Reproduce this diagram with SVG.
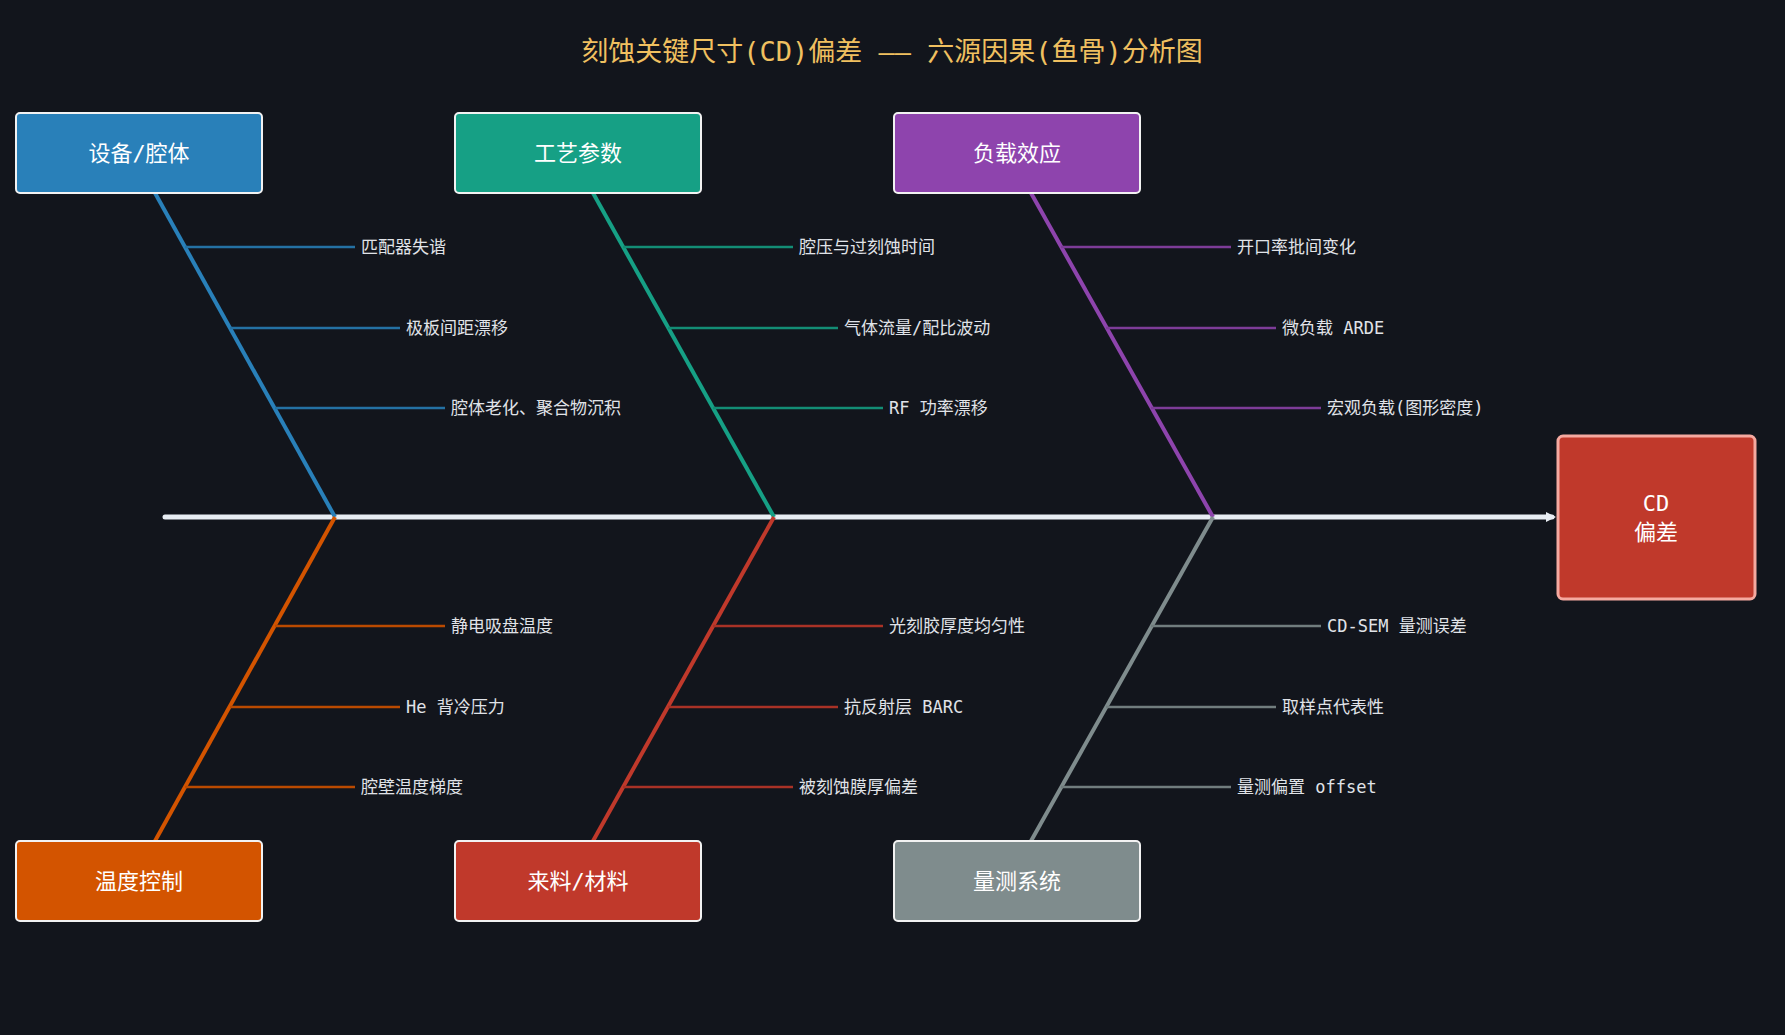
<svg xmlns="http://www.w3.org/2000/svg" width="1785" height="1035" viewBox="0 0 1785 1035">
<style>
text{font-family:"DejaVu Sans Mono","Noto Sans CJK SC",monospace}
.t{fill:#f0c060;font-size:27px}
.bl{fill:#ffffff;font-size:22px;text-anchor:middle}
.sl{fill:#e0e3e8;font-size:17px;dominant-baseline:central}
.box{stroke:#f2f2f2;stroke-width:2}
.bone{stroke-width:4;fill:none}
.sub{stroke-width:2.5;fill:none}
</style>
<defs><marker id="ah" markerWidth="10" markerHeight="10" refX="6" refY="5" orient="auto" markerUnits="userSpaceOnUse"><path d="M0,0 L10,5 L0,10 z" fill="#e8edf3"/></marker></defs>
<rect width="1785" height="1035" fill="#12151c"/>
<text class="t" x="892" y="61" text-anchor="middle">刻蚀关键尺寸(CD)偏差 —— 六源因果(鱼骨)分析图</text>
<g id="connectors">
<line x1="165" y1="517" x2="1552" y2="517" stroke="#e8edf3" stroke-width="5" stroke-linecap="round" marker-end="url(#ah)"/>
<line class="bone" x1="155" y1="193" x2="335" y2="517" stroke="#2980b9"/>
<line class="bone" x1="593" y1="193" x2="774" y2="517" stroke="#16a085"/>
<line class="bone" x1="1031" y1="193" x2="1213" y2="517" stroke="#8e44ad"/>
<line class="bone" x1="155" y1="841" x2="335" y2="517" stroke="#d35400"/>
<line class="bone" x1="593" y1="841" x2="774" y2="517" stroke="#c0392b"/>
<line class="bone" x1="1031" y1="841" x2="1213" y2="517" stroke="#7f8c8d"/>
<g stroke="#2471a3" class="sub"><line x1="185" y1="247" x2="355" y2="247"/><line x1="230" y1="328" x2="400" y2="328"/><line x1="275" y1="408" x2="445" y2="408"/></g>
<g stroke="#138d75" class="sub"><line x1="623" y1="247" x2="793" y2="247"/><line x1="668" y1="328" x2="838" y2="328"/><line x1="713" y1="408" x2="883" y2="408"/></g>
<g stroke="#7d3c98" class="sub"><line x1="1061" y1="247" x2="1231" y2="247"/><line x1="1106" y1="328" x2="1276" y2="328"/><line x1="1151" y1="408" x2="1321" y2="408"/></g>
<g stroke="#ba4a00" class="sub"><line x1="275" y1="626" x2="445" y2="626"/><line x1="230" y1="707" x2="400" y2="707"/><line x1="185" y1="787" x2="355" y2="787"/></g>
<g stroke="#a93226" class="sub"><line x1="713" y1="626" x2="883" y2="626"/><line x1="668" y1="707" x2="838" y2="707"/><line x1="623" y1="787" x2="793" y2="787"/></g>
<g stroke="#717d7e" class="sub"><line x1="1151" y1="626" x2="1321" y2="626"/><line x1="1106" y1="707" x2="1276" y2="707"/><line x1="1061" y1="787" x2="1231" y2="787"/></g>
</g>
<g id="labels">
<text class="sl" x="361" y="247">匹配器失谐</text><text class="sl" x="406" y="328">极板间距漂移</text><text class="sl" x="451" y="408">腔体老化、聚合物沉积</text>
<text class="sl" x="799" y="247">腔压与过刻蚀时间</text><text class="sl" x="844" y="328">气体流量/配比波动</text><text class="sl" x="889" y="408">RF 功率漂移</text>
<text class="sl" x="1237" y="247">开口率批间变化</text><text class="sl" x="1282" y="328">微负载 ARDE</text><text class="sl" x="1327" y="408">宏观负载(图形密度)</text>
<text class="sl" x="451" y="626">静电吸盘温度</text><text class="sl" x="406" y="707">He 背冷压力</text><text class="sl" x="361" y="787">腔壁温度梯度</text>
<text class="sl" x="889" y="626">光刻胶厚度均匀性</text><text class="sl" x="844" y="707">抗反射层 BARC</text><text class="sl" x="799" y="787">被刻蚀膜厚偏差</text>
<text class="sl" x="1327" y="626">CD-SEM 量测误差</text><text class="sl" x="1282" y="707">取样点代表性</text><text class="sl" x="1237" y="787">量测偏置 offset</text>
</g>
<g id="n1"><rect class="box" x="16" y="113" width="246" height="80" rx="4" fill="#2980b9"/><text class="bl" x="139" y="161">设备/腔体</text></g>
<g id="n2"><rect class="box" x="455" y="113" width="246" height="80" rx="4" fill="#16a085"/><text class="bl" x="578" y="161">工艺参数</text></g>
<g id="n3"><rect class="box" x="894" y="113" width="246" height="80" rx="4" fill="#8e44ad"/><text class="bl" x="1017" y="161">负载效应</text></g>
<g id="n4"><rect class="box" x="16" y="841" width="246" height="80" rx="4" fill="#d35400"/><text class="bl" x="139" y="889">温度控制</text></g>
<g id="n5"><rect class="box" x="455" y="841" width="246" height="80" rx="4" fill="#c0392b"/><text class="bl" x="578" y="889">来料/材料</text></g>
<g id="n6"><rect class="box" x="894" y="841" width="246" height="80" rx="4" fill="#7f8c8d"/><text class="bl" x="1017" y="889">量测系统</text></g>
<g id="cd"><rect x="1558" y="436" width="197" height="163" rx="5" fill="#c0392b" stroke="#f5a9a0" stroke-width="3"/><text class="bl" x="1656" y="511">CD</text><text class="bl" x="1656" y="540">偏差</text></g>
</svg>
